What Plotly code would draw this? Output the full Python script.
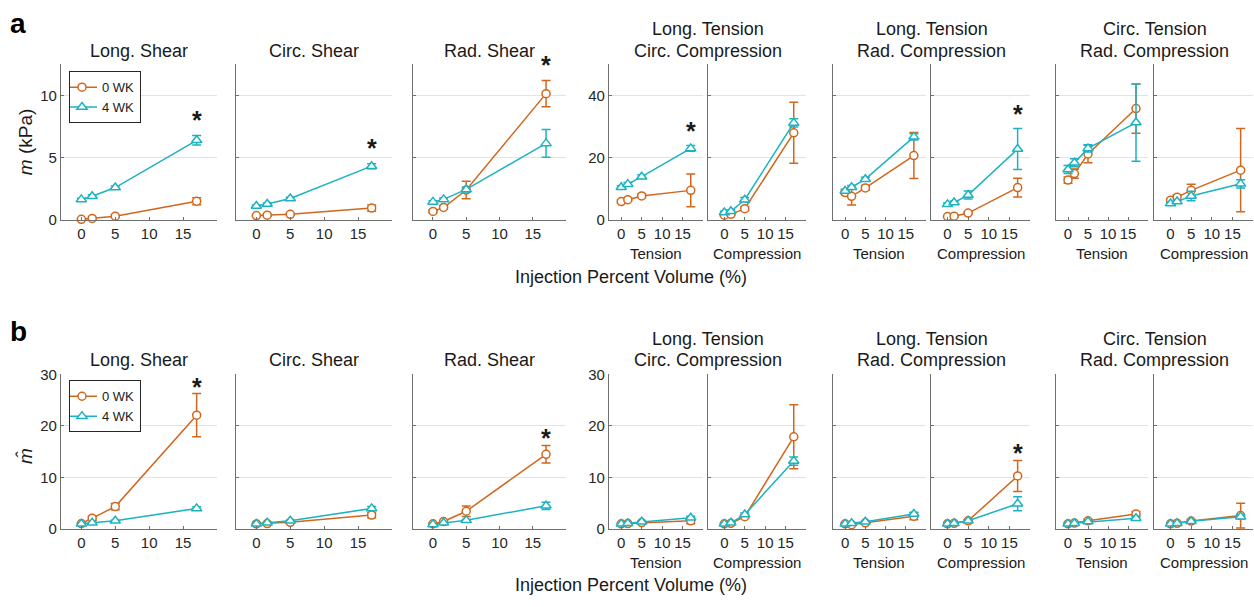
import plotly.graph_objects as go

W, H = 1254, 607

# ---------------- data ----------------
x_vol = [0, 1.6, 5, 17]
x_ticks = [0, 5, 10, 15]

panel_titles = ["Long. Shear", "Circ. Shear", "Rad. Shear"]
pair_titles = [["Long. Tension", "Circ. Compression"],
               ["Long. Tension", "Rad. Compression"],
               ["Circ. Tension", "Rad. Compression"]]
pair_sublabels = ["Tension", "Compression"]
series_names = ["0 WK", "4 WK"]

# row a: m (kPa); panels: LS, CS, RS, LTCC-T, LTCC-C, LTRC-T, LTRC-C, CTRC-T, CTRC-C
m_0wk = [[0.05, 0.12, 0.3, 1.5], [0.35, 0.38, 0.45, 0.95], [0.68, 1.0, 2.4, 10.15],
         [5.9, 6.5, 7.7, 9.5], [1.5, 1.8, 3.6, 28.0], [8.8, 7.6, 10.3, 20.7],
         [1.1, 1.2, 2.2, 10.4], [12.8, 14.9, 21.2, 35.8], [6.3, 7.3, 9.5, 16.0]]
m_0wk_err = [[0.05, 0.05, 0.1, 0.28], [0.08, 0.08, 0.08, 0.25], [0.1, 0.15, 0.7, 1.05],
             [0.5, 0.5, 0.6, 5.3], [0.3, 0.3, 0.6, 9.8], [0.7, 2.8, 0.8, 7.4],
             [0.2, 0.2, 0.4, 3.0], [1.0, 1.5, 2.8, 7.9], [0.6, 0.8, 2.0, 13.4]]
m_4wk = [[1.65, 1.9, 2.6, 6.4], [1.12, 1.28, 1.72, 4.32], [1.45, 1.65, 2.45, 6.15],
         [10.5, 11.5, 13.9, 23.0], [2.4, 2.8, 6.5, 31.2], [9.3, 10.5, 13.1, 26.7],
         [5.0, 5.6, 8.0, 22.8], [16.2, 18.4, 23.0, 31.3], [5.3, 5.9, 7.7, 11.6]]
m_4wk_err = [[0.1, 0.12, 0.12, 0.38], [0.08, 0.08, 0.1, 0.2], [0.1, 0.12, 0.2, 1.12],
             [0.5, 0.5, 0.6, 0.9], [0.4, 0.4, 0.7, 1.3], [0.6, 0.6, 0.6, 1.0],
             [0.4, 0.5, 1.3, 6.6], [1.3, 1.3, 1.2, 12.4], [0.5, 0.5, 1.5, 1.3]]

# row b: normalised m-hat
mh_0wk = [[1.05, 2.1, 4.35, 22.1], [1.0, 1.05, 1.3, 2.7], [1.0, 1.45, 3.45, 14.5],
          [1.0, 1.05, 1.25, 1.6], [1.0, 1.1, 2.4, 17.9], [1.0, 0.85, 1.2, 2.5],
          [1.0, 1.1, 1.6, 10.3], [1.0, 1.15, 1.6, 2.9], [1.0, 1.1, 1.55, 2.6]]
mh_0wk_err = [[0.15, 0.4, 0.6, 4.2], [0.1, 0.1, 0.2, 0.5], [0.1, 0.2, 1.0, 1.7],
              [0.1, 0.1, 0.15, 0.6], [0.1, 0.1, 0.3, 6.2], [0.1, 0.3, 0.1, 0.7],
              [0.1, 0.1, 0.2, 3.0], [0.1, 0.15, 0.3, 0.5], [0.1, 0.15, 0.3, 2.4]]
mh_4wk = [[1.0, 1.2, 1.6, 4.0], [1.0, 1.2, 1.6, 4.0], [0.9, 1.2, 1.7, 4.5],
          [1.0, 1.1, 1.4, 2.2], [1.0, 1.2, 2.8, 13.2], [1.0, 1.1, 1.4, 2.9],
          [1.0, 1.1, 1.6, 4.9], [1.0, 1.1, 1.45, 2.1], [1.0, 1.1, 1.5, 2.4]]
mh_4wk_err = [[0.1, 0.1, 0.1, 0.3], [0.1, 0.1, 0.1, 0.35], [0.1, 0.1, 0.15, 0.7],
              [0.1, 0.1, 0.1, 0.3], [0.1, 0.1, 0.3, 0.8], [0.1, 0.1, 0.1, 0.3],
              [0.1, 0.1, 0.2, 1.35], [0.1, 0.1, 0.2, 0.4], [0.1, 0.1, 0.2, 0.4]]

# significance markers (panel index, y position)
sig_a_panels = [0, 1, 2, 3, 6]
sig_a_y = [8.2, 6.0, 12.65, 29.3, 35.0]
sig_b_panels = [0, 2, 6]
sig_b_y = [28.1, 18.2, 15.3]

# ---------------- style ----------------
FONT = "Liberation Sans, Arial, Helvetica, sans-serif"
C0 = "#D2661C"
C1 = "#1BB3C2"
AXC = "#6f6f6f"
GRID = "#e3e3e3"
TXT = "#1a1a1a"

panel_px = [(61, 217), (236, 392), (413, 566), (609, 703), (708, 806),
            (833, 926), (931, 1030), (1056, 1148), (1154, 1253)]
x_ranges = [[-3, 20]] * 3 + [[-3, 20], [-4, 20]] * 3

rows = [
    dict(top=57, bot=217, vals=(m_0wk, m_0wk_err, m_4wk, m_4wk_err),
         yr=lambda p: [0, 12.5] if p < 3 else [0, 50],
         dt=lambda p: 5 if p < 3 else 20,
         sigp=sig_a_panels, sigy=sig_a_y, legend="legend",
         t1=20.7, t2=42.7, sub=252, xt=276, letter="a", ly=15,
         ytitle="<i>m</i> (kPa)", ytc=137),
    dict(top=376, bot=535, vals=(mh_0wk, mh_0wk_err, mh_4wk, mh_4wk_err),
         yr=lambda p: [0, 30], dt=lambda p: 10,
         sigp=sig_b_panels, sigy=sig_b_y, legend="legend2",
         t1=339, t2=361, sub=569, xt=593, letter="b", ly=332,
         ytitle="<i>m\u0302</i>", ytc=460),
]


def fx(px):
    return px / W


def fy(py):
    return 1 - py / H


fig = go.Figure()
layout = dict(width=W, height=H, margin=dict(l=0, r=0, t=0, b=0),
              paper_bgcolor="white", plot_bgcolor="white",
              font=dict(family=FONT, color=TXT, size=15),
              showlegend=True)
annotations = []

for r, row in enumerate(rows):
    v0, e0, v1, e1 = row["vals"]
    for p in range(9):
        idx = r * 9 + p + 1
        xa = "xaxis" if idx == 1 else f"xaxis{idx}"
        ya = "yaxis" if idx == 1 else f"yaxis{idx}"
        xr = "x" if idx == 1 else f"x{idx}"
        yr = "y" if idx == 1 else f"y{idx}"
        x0, x1 = panel_px[p]
        layout[xa] = dict(domain=[fx(x0), fx(x1)], anchor=yr, range=x_ranges[p],
                          tickvals=x_ticks, showline=True, linecolor=AXC, linewidth=1.2,
                          ticks="inside", ticklen=3, tickcolor=AXC, showgrid=False,
                          zeroline=False, tickfont=dict(size=15, color="#262626"),
                          fixedrange=True)
        showlab = p in (0, 3)
        layout[ya] = dict(domain=[fy(row["bot"]), fy(row["top"])], anchor=xr,
                          range=row["yr"](p), dtick=row["dt"](p), tick0=0,
                          showline=True, linecolor=AXC, linewidth=1.2,
                          ticks="inside", ticklen=3, tickcolor=AXC,
                          showgrid=True, gridcolor=GRID, gridwidth=1,
                          zeroline=False, showticklabels=showlab,
                          tickfont=dict(size=15, color="#262626"), fixedrange=True)
        for s, (vals, errs, col, sym) in enumerate([(v0, e0, C0, "circle"),
                                                   (v1, e1, C1, "triangle-up")]):
            fig.add_trace(go.Scatter(
                x=x_vol, y=vals[p], xaxis=xr, yaxis=yr, mode="lines+markers",
                name=series_names[s], legend=row["legend"],
                showlegend=(p == 0), cliponaxis=False,
                line=dict(color=col, width=1.5),
                marker=dict(symbol=sym, size=8 if s == 0 else 9, color="white",
                            line=dict(color=col, width=1.5)),
                error_y=dict(type="data", array=errs[p], visible=True,
                             color=col, thickness=1.5, width=4.5),
            ))
    # significance asterisks
    for p, yv in zip(row["sigp"], row["sigy"]):
        idx = r * 9 + p + 1
        ymax = row["yr"](p)[1]
        ppu = (row["bot"] - row["top"]) / ymax
        y_anchor = min(yv, ymax)
        annotations.append(dict(x=17, y=y_anchor, xref=("x" if idx == 1 else f"x{idx}"),
                                yref=("y" if idx == 1 else f"y{idx}"),
                                text="<b>*</b>", showarrow=False, yanchor="middle",
                                yshift=(yv - y_anchor) * ppu - 2.5,
                                font=dict(size=25, color=TXT)))
    # titles
    for p in range(3):
        cx = (panel_px[p][0] + panel_px[p][1]) / 2
        annotations.append(dict(x=fx(cx), y=fy(row["t2"]), xref="paper", yref="paper",
                                text=panel_titles[p], showarrow=False,
                                xanchor="center", yanchor="middle",
                                font=dict(size=18, color=TXT)))
    for k in range(3):
        pl, pr = panel_px[3 + 2 * k], panel_px[4 + 2 * k]
        cx = (pl[0] + pr[1]) / 2
        for line, yy in zip(pair_titles[k], (row["t1"], row["t2"])):
            annotations.append(dict(x=fx(cx), y=fy(yy), xref="paper", yref="paper",
                                    text=line, showarrow=False,
                                    xanchor="center", yanchor="middle",
                                    font=dict(size=18, color=TXT)))
        for j, pp in enumerate((pl, pr)):
            annotations.append(dict(x=fx((pp[0] + pp[1]) / 2), y=fy(row["sub"]),
                                    xref="paper", yref="paper", text=pair_sublabels[j],
                                    showarrow=False, xanchor="center", yanchor="middle",
                                    font=dict(size=15, color=TXT)))
    # x axis title
    annotations.append(dict(x=fx(631), y=fy(row["xt"]), xref="paper", yref="paper",
                            text="Injection Percent Volume (%)", showarrow=False,
                            xanchor="center", yanchor="middle",
                            font=dict(size=18, color=TXT)))
    # y axis title
    annotations.append(dict(x=fx(25), y=fy(row["ytc"]), xref="paper", yref="paper",
                            text=row["ytitle"], showarrow=False, textangle=-90,
                            xanchor="center", yanchor="middle",
                            font=dict(size=19, color=TXT)))
    # panel letter
    annotations.append(dict(x=fx(18), y=fy(row["ly"]), xref="paper", yref="paper",
                            text=f"<b>{row['letter']}</b>", showarrow=False,
                            xanchor="center", yanchor="middle",
                            font=dict(size=28, color="black")))

leg_common = dict(xanchor="left", yanchor="top", bgcolor="white",
                  bordercolor="#262626", borderwidth=1, font=dict(size=13, color=TXT),
                  itemwidth=30, tracegroupgap=0, indentation=-8)
layout["legend"] = dict(x=fx(69), y=fy(64), **leg_common)
layout["legend2"] = dict(x=fx(69), y=fy(382), **leg_common)
layout["annotations"] = annotations
fig.update_layout(**layout)

css_js = (
    "var st=document.createElement('style');"
    "st.innerHTML='html,body{margin:0 !important;padding:0 !important;"
    "width:1254px;height:607px;overflow:hidden !important;}"
    ".plotly-graph-div{position:fixed !important;top:0;left:0;}';"
    "document.head.appendChild(st);"
)
fig.write_html("out.html", post_script=css_js,
               config={"displayModeBar": False})
